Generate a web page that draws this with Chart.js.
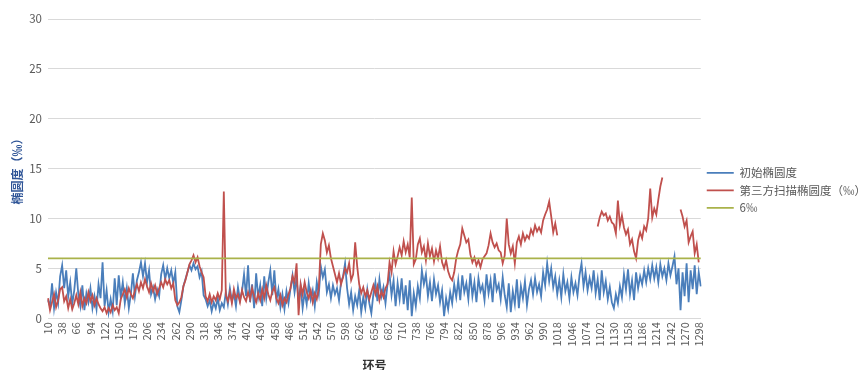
<!DOCTYPE html>
<html>
<head>
<meta charset="utf-8">
<script src="https://cdn.jsdelivr.net/npm/chart.js@4.4.1/dist/chart.umd.min.js"></script>
<style>
  html, body { margin: 0; padding: 0; background: #fff; overflow: hidden; }
  #wrap { position: absolute; left: 0; top: 0; width: 864px; height: 373px; }
</style>
</head>
<body>
<div id="wrap"><canvas id="ovalChart"></canvas></div>
<script>
// ring numbers: every 4th ring from 10, labels shown every 28 rings
const ringStart = 10, ringStep = 4, labelStep = 28;

// 初始椭圆度 (‰)
const initial = [
  1.8, 1.2, 3.5, 1.0, 2.6, 1.5, 4.2, 5.3, 3.0, 4.8, 2.2, 3.6, 1.4, 2.8,
  5.0, 2.4, 1.2, 3.3, 0.8, 2.5, 1.6, 3.0, 1.0, 2.2, 0.9, 3.4, 2.0, 5.6,
  1.2, 2.8, 0.6, 1.9, 0.7, 4.0, 1.3, 4.3, 2.1, 3.6, 1.5, 3.0, 1.0, 2.4,
  4.5, 2.2, 3.8, 4.6, 5.6, 4.2, 5.5, 3.6, 4.8, 2.4, 3.1, 1.9, 2.9, 2.2,
  4.4, 5.3, 3.9, 5.0, 4.0, 4.8, 3.5, 4.6, 1.2, 0.6, 1.8, 3.2, 3.9, 4.6,
  5.3, 4.8, 5.5, 4.9, 5.2, 4.1, 4.7, 2.3, 1.9, 1.2, 1.8, 0.7, 1.6, 1.0,
  2.0, 0.8, 1.5, 1.1, 2.6, 1.4, 3.0, 1.7, 2.5, 1.2, 3.1, 1.8, 2.7, 4.4,
  2.2, 5.3, 1.6, 3.4, 1.0, 4.5, 2.1, 3.3, 1.2, 4.2, 2.0, 3.6, 4.8, 2.3,
  4.8, 1.8, 2.9, 1.1, 2.4, 0.9, 2.7, 1.5, 3.0, 4.3, 2.6, 4.0, 1.7, 3.2,
  1.0, 2.6, 1.4, 3.5, 1.9, 2.8, 1.2, 3.6, 2.4, 5.2, 4.1, 4.9, 2.6, 3.4,
  2.0, 3.3, 2.4, 3.0, 1.8, 3.6, 4.2, 5.5, 3.0, 1.4, 2.6, 0.8, 2.2, 1.3,
  2.8, 0.6, 2.1, 1.0, 2.9, 1.5, 0.5, 2.4, 3.6, 1.7, 3.9, 2.2, 3.1, 1.5,
  3.4, 4.4, 2.3, 3.8, 1.2, 3.5, 1.9, 4.0, 1.4, 3.3, 0.8, 3.8, 0.2, 2.5,
  1.2, 3.2, 2.0, 4.8, 3.4, 4.4, 2.2, 3.6, 1.7, 3.9, 2.4, 3.3, 1.6, 2.8,
  0.2, 2.0, 0.9, 2.6, 1.5, 3.4, 2.1, 3.8, 1.8, 4.3, 2.6, 3.5, 1.9, 4.5,
  2.2, 3.6, 1.6, 4.0, 2.7, 3.3, 1.8, 4.4, 2.5, 3.8, 1.6, 4.5, 2.8, 3.4,
  1.9, 4.1, 2.3, 1.1, 3.5, 0.6, 2.7, 1.4, 3.9, 1.0, 3.2, 2.0, 3.7, 1.3,
  2.9, 3.8, 2.4, 4.0, 2.6, 3.4, 2.2, 4.6, 3.3, 5.5, 3.7, 5.0, 3.1, 4.2,
  2.4, 3.8, 2.1, 4.4, 2.7, 3.6, 2.0, 4.1, 2.6, 3.5, 2.3, 4.3, 5.5, 3.2,
  4.6, 2.8, 4.0, 3.0, 4.8, 2.5, 3.9, 1.8, 4.8, 2.6, 3.7, 1.9, 3.1, 1.6,
  1.0, 2.4, 1.5, 3.2, 2.1, 4.4, 2.9, 4.9, 2.4, 3.8, 1.8, 4.6, 3.0, 4.2,
  3.4, 4.8, 3.6, 5.0, 3.9, 5.3, 4.0, 5.1, 3.6, 5.4, 4.2, 5.0, 3.8, 5.5,
  4.3, 5.2, 6.2, 3.4, 5.0, 0.8, 4.6, 2.2, 5.5, 1.6, 4.8, 2.9, 5.3, 2.4,
  4.6, 3.2
];

// 第三方扫描椭圆度 (‰), null where no scan
const scanned = [
  2.0, 0.8, 1.6, 2.4, 1.1, 1.8, 2.9, 3.1, 1.7, 2.2, 1.0, 1.9, 0.9, 1.5,
  2.3, 1.4, 2.6, 1.2, 2.0, 1.5, 2.6, 1.7, 2.3, 1.3, 2.0, 1.4, 1.0, 0.7,
  1.1, 0.5, 1.0, 0.6, 1.3, 0.8, 1.1, 0.5, 1.9, 2.4, 2.9, 2.1, 3.0, 2.4,
  2.0, 2.8, 3.4, 2.7, 3.6, 3.0, 3.9, 3.2, 2.6, 3.5, 2.7, 3.3, 2.4, 3.0,
  3.6, 3.1, 3.9, 3.4, 3.8, 3.0, 3.5, 1.8, 1.3, 1.6, 2.1, 3.2, 3.8, 4.6,
  5.4, 5.8, 6.3, 5.6, 6.1, 5.2, 4.6, 4.1, 2.2, 1.7, 2.4, 1.6, 2.2, 1.8,
  2.5, 1.9, 2.8, 12.7, 2.3, 1.7, 2.6, 1.5, 2.9, 2.0, 2.4, 1.6, 2.8, 2.1,
  1.7, 2.6, 1.9, 3.0, 2.2, 1.6, 2.5, 1.8, 2.9, 2.0, 3.3, 2.4, 1.8, 2.7,
  3.1, 2.0, 1.5, 2.3, 1.3, 2.0, 1.6, 2.4, 3.0, 4.2, 3.6, 5.5, 0.3, 3.4,
  2.4, 3.6, 2.6, 2.0, 2.8, 1.6, 2.5, 1.9, 3.0, 7.4, 8.5, 7.8, 6.6, 7.3,
  6.0, 5.2, 4.4, 3.6, 4.5, 3.4, 4.1, 5.0, 4.6, 5.5, 3.8, 4.4, 7.6, 5.2,
  3.4, 2.5, 3.1, 2.2, 2.8, 1.9, 2.6, 3.3, 2.4, 3.2, 1.8, 2.7, 2.1, 3.0,
  3.4, 5.6, 4.6, 6.7, 5.4, 6.2, 7.1, 6.3, 7.7, 6.6, 7.4, 6.1, 12.1, 5.4,
  5.9, 7.4, 8.0, 6.6, 7.2, 5.8, 7.5, 6.2, 7.0, 5.7, 6.8, 6.0, 7.2, 5.6,
  5.0, 5.8, 4.7, 4.1, 3.8, 4.6, 6.0, 6.8, 7.4, 9.0, 8.3, 7.6, 7.9, 6.4,
  5.6, 6.1, 5.3, 5.8, 5.1, 5.9, 6.2, 6.5, 7.3, 8.5, 7.6, 7.1, 7.5, 6.8,
  6.6, 5.5, 6.3, 10.0, 7.4, 6.5, 7.2, 5.5, 7.6, 8.2, 7.4, 8.5, 7.8, 8.3,
  8.0, 8.9, 8.4, 9.3, 8.7, 9.1, 8.6, 9.8, 10.4, 10.9, 11.7, 10.2, 8.6, 9.5,
  8.3, null, null, null, null, null, null, null, null, null, null, null, null, null,
  null, null, null, null, null, null, 9.2, 10.1, 10.7, 10.3, 10.5, 9.8, 10.2, 9.6,
  9.4, 8.5, 11.8, 9.3, 10.3, 9.1, 8.4, 8.9, 7.4, 7.9, 6.7, 6.0, 7.8, 8.6,
  8.0, 9.2, 8.8, 10.0, 13.0, 10.1, 11.0, 10.4, 11.9, 13.2, 14.1, null, null, null,
  null, null, null, null, null, 10.9, 10.2, 9.2, 9.8, 7.6, 8.2, 8.7, 6.5, 7.4,
  5.6, null
];

const limitValue = 6; // 6‰ reference line

const rings = initial.map((v, i) => ringStart + i * ringStep);
const limitLine = rings.map(() => limitValue);

Chart.defaults.font.family = '"Noto Sans CJK SC", "Noto Sans", sans-serif';
Chart.defaults.color = "#595959";

const ctx = document.getElementById("ovalChart").getContext("2d");
new Chart(ctx, {
  type: "line",
  data: {
    labels: rings,
    datasets: [
      { label: "初始椭圆度", data: initial, borderColor: "#4a7ebb", backgroundColor: "#4a7ebb", borderWidth: 1.8, order: 2 },
      { label: "第三方扫描椭圆度（‰）", data: scanned, borderColor: "#c0504d", backgroundColor: "#c0504d", borderWidth: 1.8, order: 1 },
      { label: "6‰", data: limitLine, borderColor: "#a9b24a", backgroundColor: "#a9b24a", borderWidth: 1.8, order: 0 }
    ]
  },
  options: {
    responsive: true,
    maintainAspectRatio: false,
    animation: false,
    spanGaps: false,
    elements: { point: { radius: 0 }, line: { tension: 0 } },
    layout: { padding: { top: 19, left: 10, right: -12, bottom: 0 } },
    plugins: {
      tooltip: { enabled: false },
      legend: {
        position: "right",
        fullSize: false,
        title: { display: true, text: "", padding: { top: 0, bottom: 29 } },
        labels: {
          usePointStyle: true, pointStyle: "line", pointStyleWidth: 27, boxHeight: 11, padding: 6,
          font: { size: 11.5 }, color: "#595959",
          sort: (a, b) => a.datasetIndex - b.datasetIndex
        }
      }
    },
    scales: {
      x: {
        grid: { display: false, drawTicks: false },
        border: { color: "#d9d9d9" },
        afterBuildTicks: s => { s.ticks = s.ticks.filter(t => (rings[t.value] - ringStart) % labelStep === 0); },
        ticks: { autoSkip: false, minRotation: 90, maxRotation: 90, padding: 4, font: { size: 11 }, color: "#595959" },
        title: { display: true, text: "环号", color: "#333333", font: { size: 12, weight: "bold" }, padding: { top: 8, bottom: 0 } }
      },
      y: {
        min: 0, max: 30,
        afterFit: s => { s.width = 38; },
        grid: { color: "#d9d9d9", drawTicks: false },
        border: { display: false },
        ticks: { stepSize: 5, padding: 6, font: { size: 11.5 }, color: "#595959" },
        title: { display: true, text: "椭圆度（‰）", color: "#2f5597", font: { size: 12, weight: "bold" }, padding: 0 }
      }
    }
  }
});
</script>
</body>
</html>
